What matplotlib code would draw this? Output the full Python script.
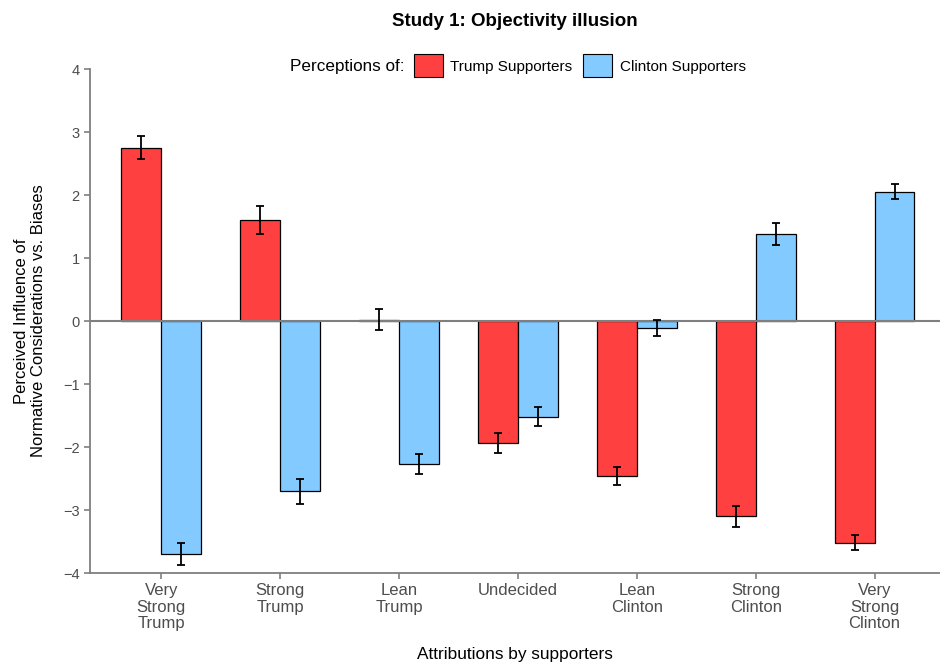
import matplotlib
matplotlib.use("Agg")
import matplotlib.pyplot as plt
import numpy as np
from matplotlib.patches import Patch

plt.rcParams['font.family'] = ['Liberation Sans', 'DejaVu Sans']

categories = ["Very\nStrong\nTrump", "Strong\nTrump", "Lean\nTrump", "Undecided",
              "Lean\nClinton", "Strong\nClinton", "Very\nStrong\nClinton"]
trump_means = [2.75, 1.60, 0.02, -1.94, -2.46, -3.10, -3.52]
trump_err = [0.18, 0.22, 0.17, 0.16, 0.15, 0.17, 0.12]
clinton_means = [-3.70, -2.70, -2.27, -1.52, -0.11, 1.38, 2.05]
clinton_err = [0.18, 0.20, 0.16, 0.15, 0.13, 0.18, 0.12]
yticks = [-4, -3, -2, -1, 0, 1, 2, 3, 4]

red = "#FF4040"
blue = "#82CAFF"
tick_gray = "#4D4D4D"
spine_gray = "#7F7F7F"

fig = plt.figure(figsize=(9.4, 6.63), dpi=100)
ax = fig.add_axes([0.0957, 0.1357, 0.9043, 0.7602])

x = np.arange(len(categories))
w = 0.335
ax.bar(x - w / 2, trump_means, w, color=red, edgecolor="black", linewidth=0.9, zorder=2)
ax.bar(x + w / 2, clinton_means, w, color=blue, edgecolor="black", linewidth=0.9, zorder=2)
ax.errorbar(x - w / 2, trump_means, yerr=trump_err, fmt="none", ecolor="black",
            elinewidth=1.3, capsize=3.2, capthick=1.3, zorder=4)
ax.errorbar(x + w / 2, clinton_means, yerr=clinton_err, fmt="none", ecolor="black",
            elinewidth=1.3, capsize=3.2, capthick=1.3, zorder=4)

ax.axhline(0, color=spine_gray, linewidth=1.5, zorder=3)

ax.set_xlim(-0.6, 6.55)
ax.set_ylim(-4, 4)
ax.set_yticks(yticks)
ax.set_yticklabels([str(t).replace("-", "\u2212") for t in yticks])
ax.set_xticks(x)
ax.set_xticklabels(categories, linespacing=1.1)
ax.tick_params(axis="both", colors=spine_gray, labelcolor=tick_gray, length=4, width=1.2)
ax.tick_params(axis="x", labelsize=12)
ax.tick_params(axis="y", labelsize=10.5)

for side in ["top", "right"]:
    ax.spines[side].set_visible(False)
for side in ["left", "bottom"]:
    ax.spines[side].set_color(spine_gray)
    ax.spines[side].set_linewidth(1.3)

fig.text(0.548, 0.013, "Attributions by supporters", fontsize=12.4, ha="center", va="center")
ax.set_ylabel("Perceived Influence of\nNormative Considerations vs. Biases", fontsize=12,
              labelpad=12, linespacing=1.2)

fig.suptitle("Study 1: Objectivity illusion", fontsize=13.5, fontweight="bold", x=0.548, y=0.981)

fig.text(0.309, 0.899, "Perceptions of:", fontsize=12.3, va="center", ha="left")
handles = [Patch(facecolor=red, edgecolor="black", linewidth=0.8),
           Patch(facecolor=blue, edgecolor="black", linewidth=0.8)]
fig.legend(handles, ["Trump Supporters", "Clinton Supporters"], loc="center left",
           bbox_to_anchor=(0.4255, 0.901), ncol=2, frameon=False, fontsize=11,
           handlelength=1.9, handleheight=1.9, handletextpad=0.5, columnspacing=0.7)

fig.savefig("out.png", dpi=100)
